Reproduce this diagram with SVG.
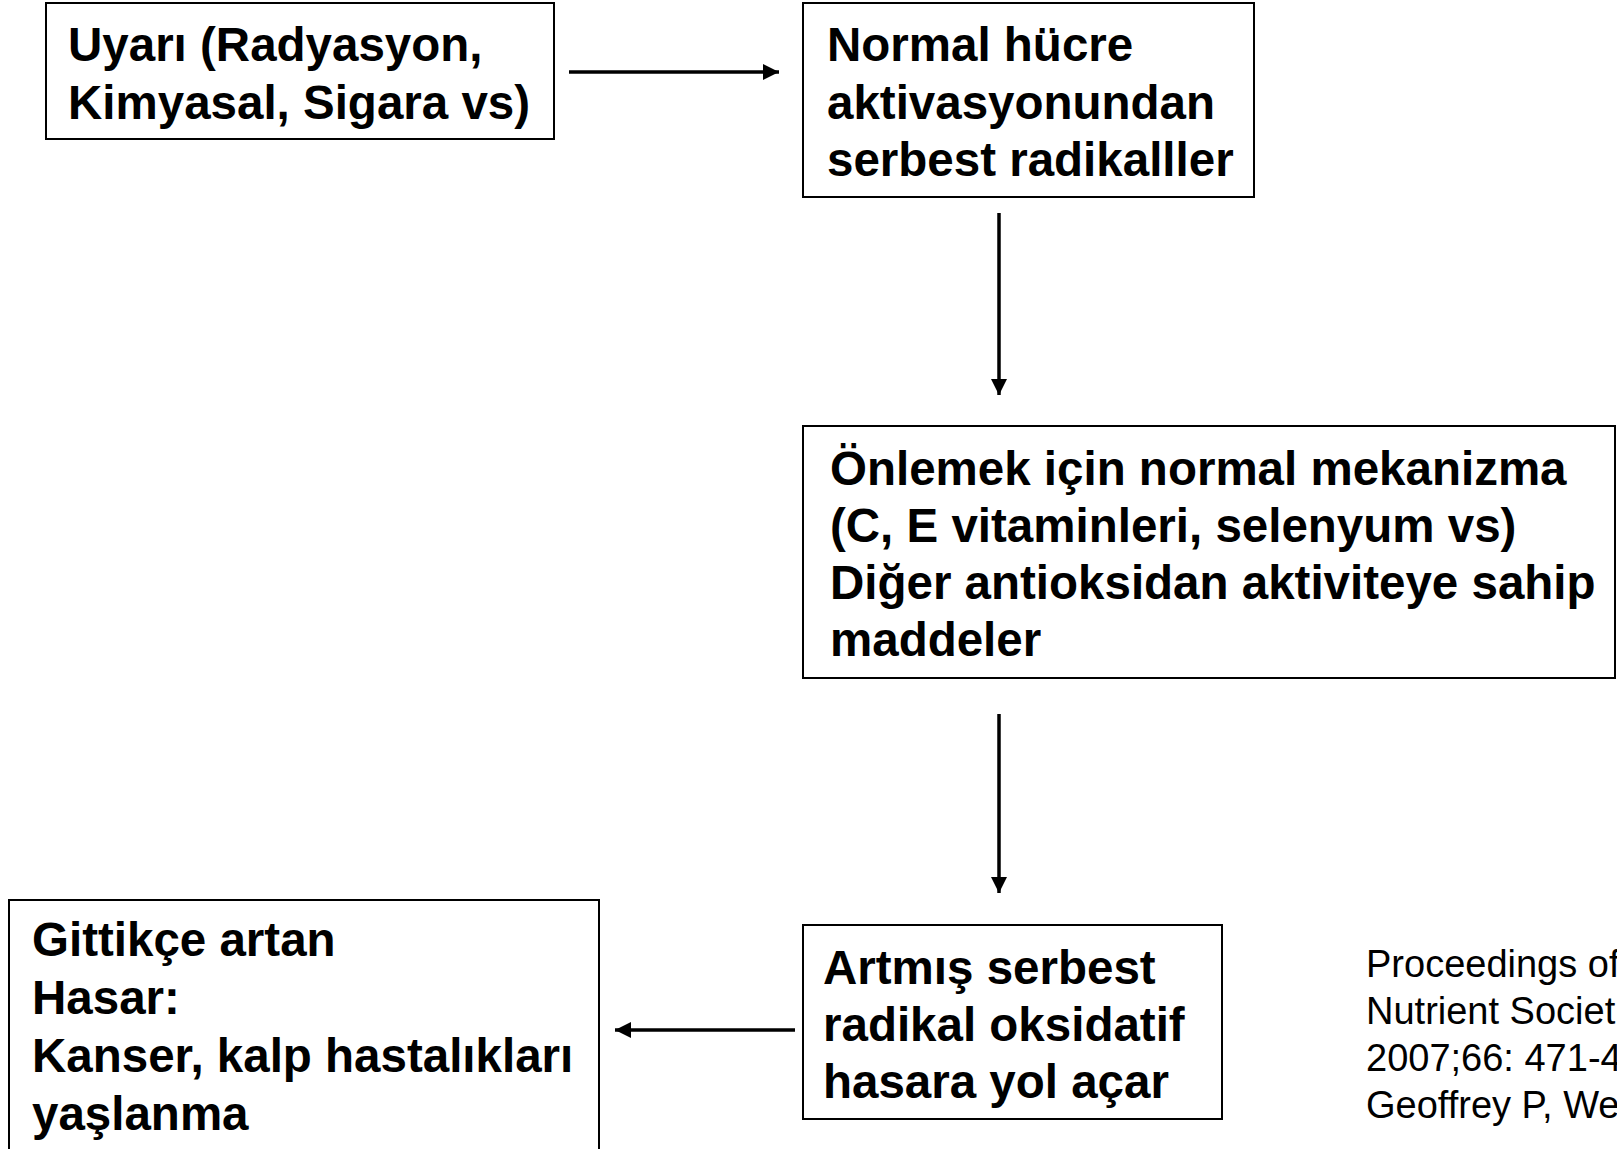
<svg xmlns="http://www.w3.org/2000/svg" width="1617" height="1149" viewBox="0 0 1617 1149">
  <style>
    .box { fill: #ffffff; stroke: #000000; stroke-width: 2; }
    .t { font-family: "Liberation Sans", Arial, sans-serif; font-weight: bold; font-size: 47.5px; fill: #000000; }
    .cite { font-family: "Liberation Sans", Arial, sans-serif; font-size: 38px; fill: #000000; }
    .conn { stroke: #000000; stroke-width: 3.5; fill: none; marker-end: url(#arrow); }
  </style>
  <defs>
    <marker id="arrow" markerUnits="userSpaceOnUse" markerWidth="18" markerHeight="18" refX="16" refY="8" orient="auto">
      <path d="M0,0 L16,8 L0,16 Z" fill="#000000"/>
    </marker>
  </defs>
  <rect width="1617" height="1149" fill="#ffffff"/>

  <g id="connectors">
    <line class="conn" x1="569" y1="72" x2="779" y2="72"/>
    <line class="conn" x1="999" y1="213" x2="999" y2="395"/>
    <line class="conn" x1="999" y1="714" x2="999" y2="893"/>
    <line class="conn" x1="795" y1="1030" x2="615" y2="1030"/>
  </g>

  <g id="node-uyari">
    <rect class="box" x="46" y="3" width="508" height="136"/>
    <text class="t" x="68" y="61">Uyarı (Radyasyon,</text>
    <text class="t" x="68" y="119">Kimyasal, Sigara vs)</text>
  </g>

  <g id="node-normal-hucre">
    <rect class="box" x="803" y="3" width="451" height="194"/>
    <text class="t" x="827" y="61">Normal hücre</text>
    <text class="t" x="827" y="119">aktivasyonundan</text>
    <text class="t" x="827" y="176">serbest radikalller</text>
  </g>

  <g id="node-onlemek">
    <rect class="box" x="803" y="426" width="812" height="252"/>
    <text class="t" x="830" y="485">Önlemek için normal mekanizma</text>
    <text class="t" x="830" y="542">(C, E vitaminleri, selenyum vs)</text>
    <text class="t" x="830" y="599">Diğer antioksidan aktiviteye sahip</text>
    <text class="t" x="830" y="656">maddeler</text>
  </g>

  <g id="node-artmis">
    <rect class="box" x="803" y="925" width="419" height="194"/>
    <text class="t" x="823" y="984">Artmış serbest</text>
    <text class="t" x="823" y="1041">radikal oksidatif</text>
    <text class="t" x="823" y="1098">hasara yol açar</text>
  </g>

  <g id="node-hasar">
    <rect class="box" x="9" y="900" width="590" height="270"/>
    <text class="t" x="32" y="956">Gittikçe artan</text>
    <text class="t" x="32" y="1014">Hasar:</text>
    <text class="t" x="32" y="1072">Kanser, kalp hastalıkları</text>
    <text class="t" x="32" y="1130">yaşlanma</text>
  </g>

  <g id="citation">
    <text class="cite" x="1366" y="977">Proceedings of</text>
    <text class="cite" x="1366" y="1024">Nutrient Societ</text>
    <text class="cite" x="1366" y="1071">2007;66: 471-4</text>
    <text class="cite" x="1366" y="1118">Geoffrey P, We</text>
  </g>
</svg>
